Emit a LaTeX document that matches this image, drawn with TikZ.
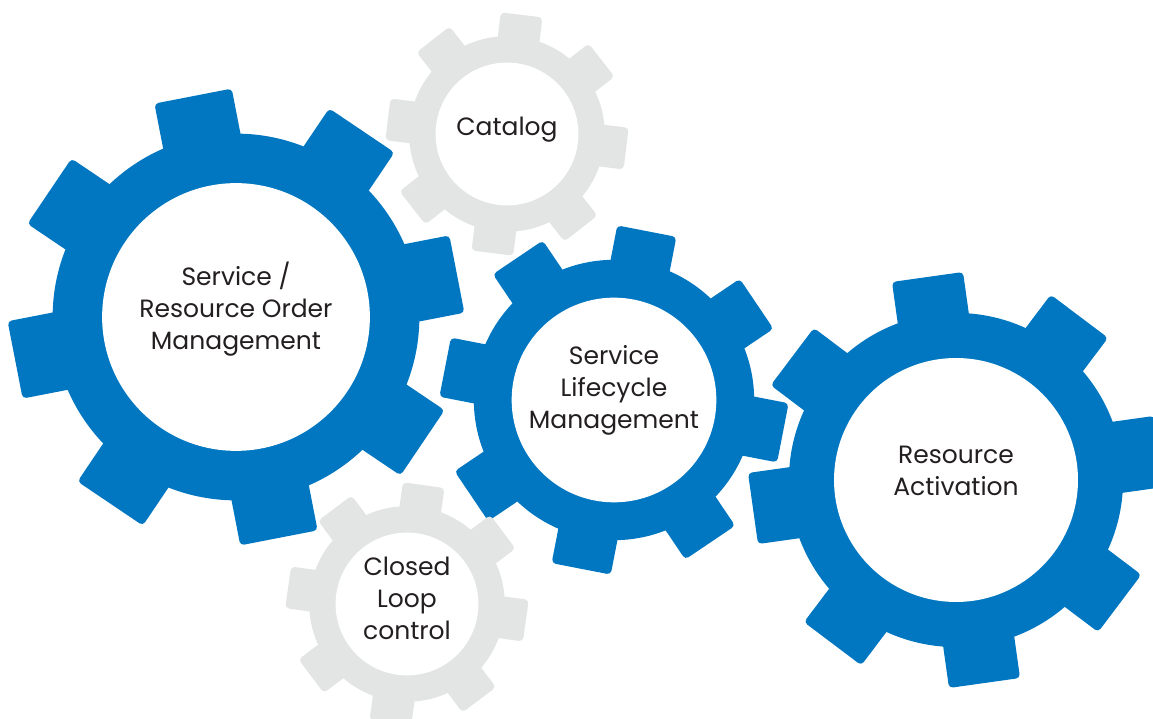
\documentclass[tikz,border=0pt]{standalone}
\usepackage{fontspec}
\setmainfont{Poppins}
\definecolor{gearblue}{RGB}{2,119,193}
\definecolor{geargrey}{RGB}{227,228,228}
\definecolor{labeltext}{RGB}{35,31,32}

\begin{document}
\begin{tikzpicture}[
    x=1pt, y=1pt,
    gearlabel/.style={
        align=center,
        text=labeltext,
        font=\fontsize{25}{32}\selectfont
    }
]

\useasboundingbox (0,0) rectangle (1153,719);

% gears: name / centre x / centre y / tip radius / tooth phase / colour
\foreach \name/\cx/\cy/\r/\ph/\col in {
    order/236/402/225/11/gearblue,
    catalog/507/585/120/-7/geargrey,
    lifecycle/614/319/172/-11/gearblue,
    activation/956/239/205/8/gearblue,
    loop/407/115/120/-8/geargrey}
{
    \coordinate (\name) at (\cx,\cy);
    \fill[\col] (\name) circle (0.815*\r);
    \foreach \a in {0,45,...,315}
        \fill[\col, shift={(\cx,\cy)}, rotate=\a+\ph, rounded corners=4pt]
            (0.7*\r,-0.175*\r) rectangle (\r,0.175*\r);
    \fill[white] (\name) circle (0.595*\r);
}

\node[gearlabel] (ordertext) at ([yshift=8pt]order)
    {Service /\\Resource Order\\Management};

\node[gearlabel] (catalogtext) at ([yshift=4pt]catalog) {Catalog};

\node[gearlabel] (lifecycletext) at ([yshift=10pt]lifecycle)
    {Service\\Lifecycle\\Management};

\node[gearlabel] (activationtext) at ([yshift=9pt]activation)
    {Resource\\Activation};

\node[gearlabel] (looptext) at ([yshift=6pt]loop)
    {Closed\\Loop\\control};

\end{tikzpicture}
\end{document}
